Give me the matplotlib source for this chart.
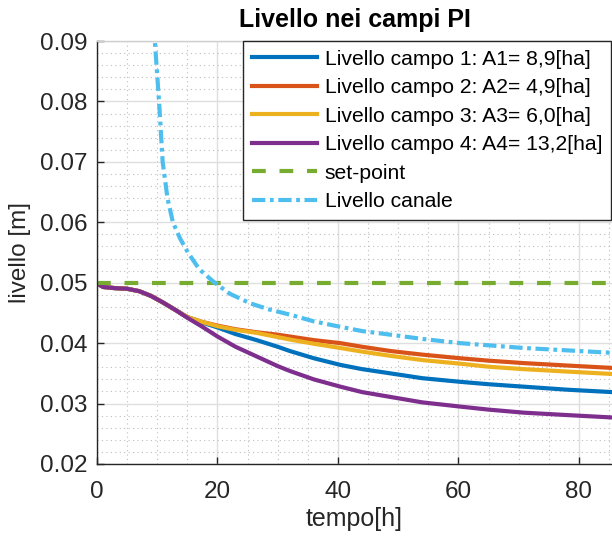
import numpy as np
import matplotlib
matplotlib.use('Agg')
import matplotlib.pyplot as plt
from matplotlib.ticker import MultipleLocator

plt.rcParams['font.family'] = ['Liberation Sans', 'DejaVu Sans']

# valori
t_campi = [0, 1, 3, 5, 7, 9, 11, 13, 15, 17.5, 20, 23, 26.5, 30, 32, 36, 40.4, 44, 48.7, 54, 60.3, 65, 70.8, 78, 85.5]
campo1 = [0.0499, 0.0493, 0.0491, 0.0490, 0.0486, 0.0478, 0.0467, 0.0455, 0.0443, 0.0434, 0.0426, 0.0415, 0.0405, 0.0394, 0.0387, 0.0375, 0.0364, 0.0357, 0.0350, 0.0342, 0.0336, 0.0332, 0.0328, 0.0323, 0.0319]
campo2 = [0.0499, 0.0493, 0.0491, 0.0490, 0.0486, 0.0478, 0.0467, 0.0455, 0.0443, 0.0435, 0.0429, 0.0423, 0.0418, 0.0414, 0.0411, 0.0405, 0.0400, 0.0394, 0.0387, 0.0381, 0.0375, 0.0371, 0.0367, 0.0363, 0.0359]
campo3 = [0.0499, 0.0493, 0.0491, 0.0490, 0.0486, 0.0478, 0.0467, 0.0455, 0.0443, 0.0435, 0.0428, 0.0422, 0.0417, 0.0410, 0.0406, 0.0399, 0.0392, 0.0386, 0.0379, 0.0372, 0.0366, 0.0361, 0.0357, 0.0353, 0.0349]
campo4 = [0.0499, 0.0493, 0.0491, 0.0490, 0.0486, 0.0478, 0.0467, 0.0455, 0.0442, 0.0427, 0.0411, 0.0394, 0.0378, 0.0362, 0.0354, 0.0340, 0.0328, 0.0319, 0.0311, 0.0302, 0.0295, 0.0290, 0.0285, 0.0281, 0.0277]

t_canale = [9.0, 9.6, 10.3, 10.9, 11.7, 12.6, 13.8, 15.1, 17.0, 19.3, 22, 25.4, 28.5, 32.1, 36, 40.4, 44, 48.7, 54, 60.3, 70.8, 85.5]
canale = [0.100, 0.0900, 0.0800, 0.0700, 0.0640, 0.0600, 0.0573, 0.0550, 0.0522, 0.0502, 0.0482, 0.0466, 0.0456, 0.0447, 0.0436, 0.0427, 0.0420, 0.0414, 0.0407, 0.0400, 0.0392, 0.0384]

set_point = 0.05

labels = ['Livello campo 1: A1= 8,9[ha]', 'Livello campo 2: A2= 4,9[ha]',
          'Livello campo 3: A3= 6,0[ha]', 'Livello campo 4: A4= 13,2[ha]',
          'set-point', 'Livello canale']
colori = ['#0072BD', '#D95319', '#EDB120', '#7E2F8E', '#77AC30', '#4DBEEE']

fig = plt.figure(figsize=(6.12, 5.39), dpi=100)
ax = fig.add_axes([97/612, 1 - 464/539, 515/612, 423/539])

lw = 3
ax.plot(t_campi, campo1, color=colori[0], lw=lw, label=labels[0])
ax.plot(t_campi, campo2, color=colori[1], lw=lw, label=labels[1])
ax.plot(t_campi, campo3, color=colori[2], lw=lw, label=labels[2])
ax.plot(t_campi, campo4, color=colori[3], lw=lw, label=labels[3])
ax.plot([0, 100], [set_point, set_point], color=colori[4], lw=lw, dashes=(3.3, 3.3), label=labels[4])
ax.plot(t_canale, canale, color=colori[5], lw=lw, dashes=(3.2, 1.1, 0.9, 1.1), label=labels[5])

ax.set_xlim(0, 85.5)
ax.set_ylim(0.02, 0.09)
ax.xaxis.set_major_locator(MultipleLocator(20))
ax.xaxis.set_minor_locator(MultipleLocator(5))
ax.yaxis.set_major_locator(MultipleLocator(0.01))
ax.yaxis.set_minor_locator(MultipleLocator(0.002))
ax.set_yticklabels([f'{v:.2f}' for v in ax.get_yticks()])

ax.grid(True, which='major', color='#dfdfdf', lw=1)
ax.grid(True, which='minor', color='#bdbdbd', lw=0.8, linestyle=(0, (1, 3)))
ax.set_axisbelow(True)

for s in ax.spines.values():
    s.set_color('#262626')
    s.set_linewidth(1)
ax.spines['right'].set_visible(False)
ax.spines['top'].set_color('#cfcfcf')
ax.tick_params(which='major', direction='in', length=5, width=1, colors='#262626', labelsize=17.5)
ax.tick_params(axis='y', pad=7)
ax.tick_params(axis='x', pad=12)
ax.tick_params(which='minor', length=0)

ax.set_xlabel('tempo[h]', fontsize=18, color='#262626', labelpad=3)
ax.set_ylabel('livello [m]', fontsize=17.5, color='#262626', labelpad=6)
ax.set_title('Livello nei campi PI', fontsize=18, fontweight='bold', pad=10)

leg = ax.legend(loc='upper left', bbox_to_anchor=(243/612, 1 - 41/539), bbox_transform=fig.transFigure,
                fontsize=15.2, handlelength=3.1, handletextpad=0.35, borderpad=0.42, labelspacing=0.45,
                fancybox=False, framealpha=1, edgecolor='#262626', borderaxespad=0)
leg.get_frame().set_linewidth(1)

fig.savefig('out.png', dpi=100)
